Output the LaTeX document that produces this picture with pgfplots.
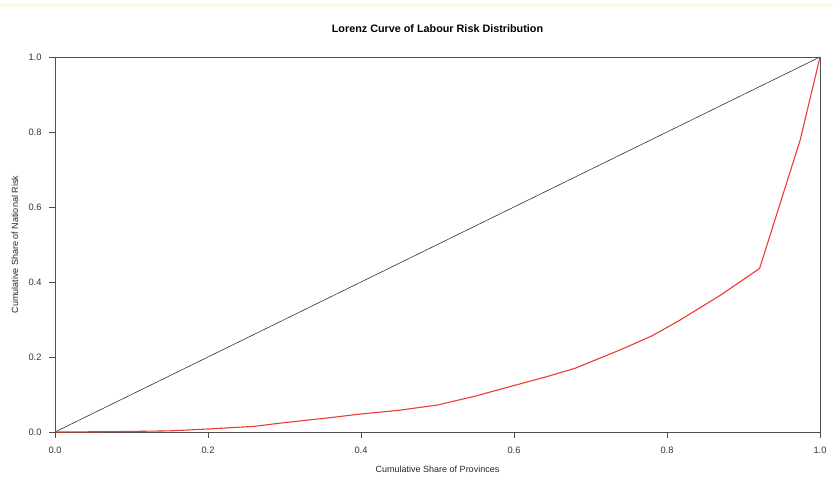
\documentclass[border=0pt]{standalone}
\usepackage{pgfplots}
\pgfplotsset{compat=1.18}
\usepackage{fontspec}
\setmainfont{Liberation Sans}
\definecolor{lorenzred}{RGB}{238,58,48}
\definecolor{boxgray}{RGB}{80,80,80}
\definecolor{topband}{RGB}{249,251,228}

\pgfplotstableread{
x      y
0.000  0.000
0.080  0.001
0.150  0.003
0.200  0.008
0.260  0.015
0.300  0.025
0.350  0.036
0.400  0.048
0.450  0.058
0.500  0.072
0.550  0.096
0.600  0.124
0.640  0.146
0.680  0.170
0.740  0.220
0.780  0.256
0.815  0.296
0.870  0.365
0.921  0.436
0.974  0.778
1.000  1.000
}\lorenz

\begin{document}
\begin{tikzpicture}
\path[use as bounding box] (0,0) rectangle (833bp,477bp);
\fill[topband] (0,470bp) rectangle (833bp,474bp);
\begin{axis}[
  at={(55bp,45bp)}, anchor=south west,
  scale only axis, width=765bp, height=375bp,
  xmin=0, xmax=1, ymin=0, ymax=1,
  xtick={0,0.2,0.4,0.6,0.8,1.0},
  ytick={0,0.2,0.4,0.6,0.8,1.0},
  xticklabel style={/pgf/number format/.cd, fixed, fixed zerofill, precision=1,
    /tikz/.cd, yshift=-11bp},
  yticklabel style={/pgf/number format/.cd, fixed, fixed zerofill, precision=1,
    /tikz/.cd, xshift=-10bp},
  /pgf/number format/assume math mode=true,
  xtick pos=bottom, ytick pos=left, tick align=outside,
  major tick length=0pt,
  axis line style={boxgray, line width=0.7bp},
  tick label style={font=\fontsize{9.3bp}{11bp}\selectfont, text=black!80},
  label style={font=\fontsize{9bp}{11bp}\selectfont, text=black!85},
  title style={font=\fontsize{10.8bp}{13bp}\selectfont\bfseries,
    at={(axis description cs:0.5,1.0587)}, anchor=center, yshift=0pt},
  xlabel style={at={(axis description cs:0.5,-0.0987)}, anchor=center},
  ylabel style={at={(axis description cs:-0.0523,0.5)}, anchor=center},
  title={Lorenz Curve of Labour Risk Distribution},
  xlabel={Cumulative Share of Provinces},
  ylabel={Cumulative Share of National Risk},
  clip=false,
  % outward tick marks on the bottom and left axis lines
  after end axis/.code={
    \foreach \t in {0,0.2,0.4,0.6,0.8,1.0}{
      \draw[black!70, line width=0.8bp] (axis cs:\t,0) -- ++(0,-5.5bp);
      \draw[black!70, line width=0.8bp] (axis cs:0,\t) -- ++(-5.5bp,0);
    }
  },
]
% line of perfect equality
\addplot[black!80, line width=0.6bp] coordinates {(0,0) (1,1)};
% observed Lorenz curve
\addplot[lorenzred, line width=1.1bp] table[x=x, y=y] {\lorenz};
\end{axis}
\end{tikzpicture}
\end{document}
